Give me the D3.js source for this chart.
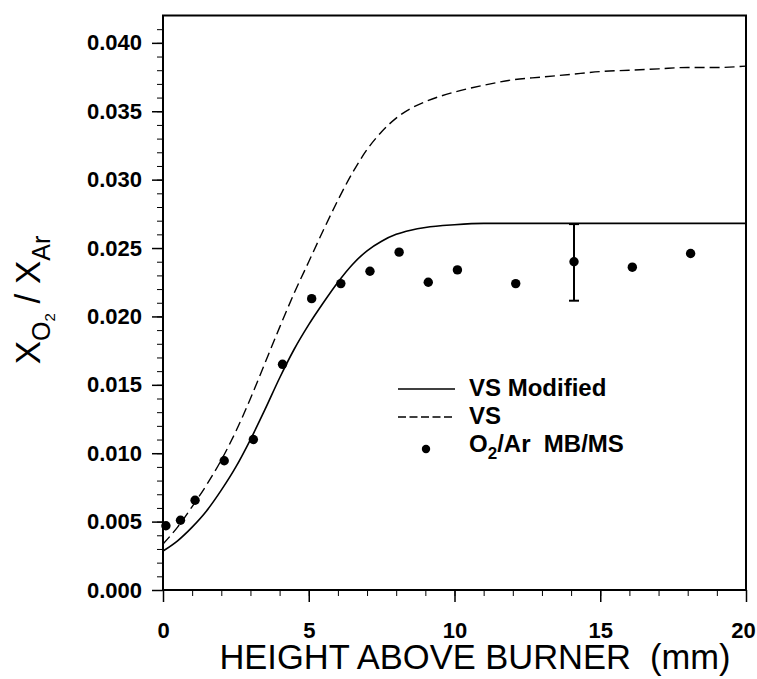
<!DOCTYPE html>
<html lang="en">
<head>
<meta charset="UTF-8">
<title>O2/Ar vs height above burner</title>
<script src="https://d3js.org/d3.v7.min.js"></script>
<style>
    body { margin: 0; background: #fff; }
    svg { display: block; }
    text { white-space: pre; }
    .tick text { font-family: "Liberation Sans", Arial, sans-serif; font-size: 22px; font-weight: bold; fill: #000; }
    .axis path, .axis line { stroke: #000; }
    .title { font-family: "Liberation Sans", Arial, sans-serif; fill: #000; }
    .legend text { font-family: "Liberation Sans", Arial, sans-serif; font-size: 24px; font-weight: bold; fill: #000; }
</style>
</head>
<body>
<svg width="757" height="679"></svg>
<script>
// measured O2/Ar ratio (MB/MS)
const heightMeas = [0.1, 0.6, 1.1, 2.1, 3.1, 4.1, 5.1, 6.1, 7.1, 8.1, 9.1, 10.1, 12.1, 14.1, 16.1, 18.1];
const ratioMeas = [0.0047, 0.0051, 0.00656, 0.00945, 0.0110, 0.0165, 0.0213, 0.0224, 0.0233, 0.0247, 0.0225, 0.0234, 0.0224, 0.0240, 0.0236, 0.0246];
// error bar on the 14 mm point
const errX = 14.1;
const errLow = 0.02115, errHigh = 0.02675;

// model curves
const heightModel = [0, 0.5, 1, 1.5, 2, 2.5, 3, 3.5, 4, 4.5, 5, 5.5, 6, 6.5, 7, 7.5, 8, 8.5, 9, 10, 11, 12, 13, 14, 15, 16, 17, 18, 19, 20];
const vsModified = [0.00285, 0.0036, 0.0046, 0.0058, 0.0073, 0.0090, 0.0110, 0.0132, 0.0155, 0.0176, 0.0194, 0.0210, 0.0225, 0.0238, 0.0248, 0.0255, 0.0260, 0.0263, 0.0265, 0.0267, 0.0268, 0.0268, 0.0268, 0.0268, 0.0268, 0.0268, 0.0268, 0.0268, 0.0268, 0.0268];
const vs = [0.00336, 0.0046, 0.0061, 0.0077, 0.0095, 0.0116, 0.0140, 0.0166, 0.0192, 0.0217, 0.0240, 0.0263, 0.0285, 0.0305, 0.0322, 0.0335, 0.0345, 0.0352, 0.0357, 0.0364, 0.0369, 0.0373, 0.0375, 0.0377, 0.0379, 0.0380, 0.0381, 0.0382, 0.0382, 0.0383];

const xTicks = [0, 5, 10, 15, 20];
const yTicks = [0, 0.005, 0.010, 0.015, 0.020, 0.025, 0.030, 0.035, 0.040];

const svg = d3.select("svg");
const plotLeft = 163, plotRight = 746, plotTop = 15.5, plotBottom = 590;

const x = d3.scaleLinear().domain([0, 20]).range([plotLeft, plotRight]);
const y = d3.scaleLinear().domain([0, 0.042]).range([plotBottom, plotTop]);

// frame
svg.append("rect")
    .attr("x", plotLeft).attr("y", plotTop)
    .attr("width", plotRight - plotLeft).attr("height", plotBottom - plotTop)
    .attr("fill", "none").attr("stroke", "#000").attr("stroke-width", 2);

// minor ticks
svg.append("g").attr("class", "axis")
    .attr("transform", `translate(0,${plotBottom})`)
    .call(d3.axisBottom(x).tickValues(d3.range(0, 21, 1)).tickSize(6).tickFormat(""))
    .call(g => g.select(".domain").remove());
svg.append("g").attr("class", "axis")
    .attr("transform", `translate(${plotLeft},0)`)
    .call(d3.axisLeft(y).tickValues(d3.range(0, 42).map(d => d / 1000)).tickSize(6).tickFormat(""))
    .call(g => g.select(".domain").remove());

// major ticks
svg.append("g").attr("class", "axis")
    .attr("transform", `translate(0,${plotBottom})`)
    .call(d3.axisBottom(x).tickValues(xTicks).tickSize(12).tickPadding(20).tickFormat(d3.format("d")))
    .call(g => g.select(".domain").remove())
    .call(g => g.selectAll(".tick line").attr("stroke-width", 1.5))
    .call(g => g.selectAll(".tick text").filter(d => d === 20).attr("dx", -3));
svg.append("g").attr("class", "axis")
    .attr("transform", `translate(${plotLeft},0)`)
    .call(d3.axisLeft(y).tickValues(yTicks).tickSize(11).tickPadding(10).tickFormat(d3.format(".3f")))
    .call(g => g.select(".domain").remove())
    .call(g => g.selectAll(".tick line").attr("stroke-width", 1.5));

// curves
const line = vals => d3.line().x((d, i) => x(heightModel[i])).y(d => y(d)).curve(d3.curveMonotoneX)(vals);

svg.append("path")
    .attr("d", line(vsModified))
    .attr("fill", "none").attr("stroke", "#000").attr("stroke-width", 1.6);
svg.append("path")
    .attr("d", line(vs))
    .attr("fill", "none").attr("stroke", "#000").attr("stroke-width", 1.4)
    .attr("stroke-dasharray", "10,5");

// error bar
svg.append("line")
    .attr("x1", x(errX)).attr("x2", x(errX))
    .attr("y1", y(errLow)).attr("y2", y(errHigh))
    .attr("stroke", "#000").attr("stroke-width", 2);
[errLow, errHigh].forEach(v => {
    svg.append("line")
        .attr("x1", x(errX) - 5).attr("x2", x(errX) + 5)
        .attr("y1", y(v)).attr("y2", y(v))
        .attr("stroke", "#000").attr("stroke-width", 2);
});

// measured points
svg.append("g").selectAll("circle")
    .data(heightMeas)
    .join("circle")
    .attr("cx", d => x(d))
    .attr("cy", (d, i) => y(ratioMeas[i]))
    .attr("r", 4.7)
    .attr("fill", "#000");

// legend
const legend = svg.append("g").attr("class", "legend");
legend.append("line")
    .attr("x1", 398).attr("x2", 455).attr("y1", 389).attr("y2", 389)
    .attr("stroke", "#000").attr("stroke-width", 1.6);
legend.append("line")
    .attr("x1", 398).attr("x2", 455).attr("y1", 417).attr("y2", 417)
    .attr("stroke", "#000").attr("stroke-width", 1.4).attr("stroke-dasharray", "8,3.5");
legend.append("circle").attr("cx", 426).attr("cy", 449).attr("r", 4.2).attr("fill", "#000");
legend.append("text").attr("x", 469).attr("y", 396).text("VS Modified");
legend.append("text").attr("x", 469).attr("y", 424).text("VS");
const t3 = legend.append("text").attr("x", 469).attr("y", 452);
t3.append("tspan").text("O");
t3.append("tspan").attr("dy", 7).attr("font-size", 17).text("2");
t3.append("tspan").attr("dy", -7).text("/Ar  MB/MS");

// axis titles
svg.append("text").attr("class", "title")
    .attr("x", 475).attr("y", 669)
    .attr("text-anchor", "middle")
    .attr("font-size", 34.5)
    .text("HEIGHT ABOVE BURNER  (mm)");

const yt = svg.append("text").attr("class", "title")
    .attr("transform", "translate(40,300) rotate(-90)")
    .attr("text-anchor", "middle")
    .attr("font-size", 35);
yt.append("tspan").text("X");
yt.append("tspan").attr("dy", 10).attr("font-size", 25).text("O");
yt.append("tspan").attr("dy", 5).attr("font-size", 15).text("2");
yt.append("tspan").attr("dy", -15).text(" / X");
yt.append("tspan").attr("dy", 10).attr("font-size", 25).text("Ar");
</script>
</body>
</html>
